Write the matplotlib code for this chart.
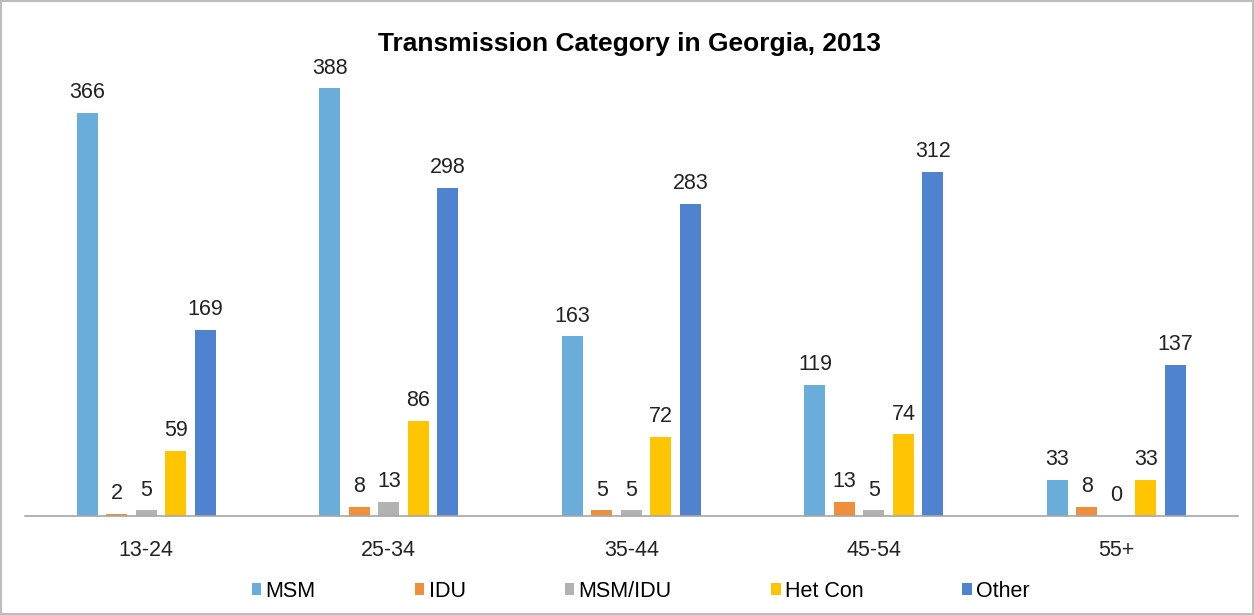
import matplotlib.pyplot as plt
import numpy as np
from matplotlib.patches import Patch, Rectangle

plt.rcParams['font.family'] = ['Liberation Sans', 'DejaVu Sans']

age_groups = ['13-24', '25-34', '35-44', '45-54', '55+']
categories = ['MSM', 'IDU', 'MSM/IDU', 'Het Con', 'Other']
msm = [366, 388, 163, 119, 33]
idu = [2, 8, 5, 13, 8]
msm_idu = [5, 13, 5, 5, 0]
het_con = [59, 86, 72, 74, 33]
other = [169, 298, 283, 312, 137]
series = [msm, idu, msm_idu, het_con, other]
colors = ['#6BADDA', '#EF8F3C', '#B2B2B2', '#FFC503', '#4F83CF']

fig = plt.figure(figsize=(12.54, 6.15), dpi=100)
ax = fig.add_axes([0.02, 0.161, 0.967, 0.742])

x = np.arange(len(age_groups))
pitch = 0.1216
width = 0.087
for i, (vals, col) in enumerate(zip(series, colors)):
    pos = x + (i - 2) * pitch
    ax.bar(pos, vals, width, color=col, zorder=2)
    for xp, v in zip(pos, vals):
        ax.annotate(str(v), (xp, v), xytext=(0, 7), textcoords='offset points',
                    ha='center', va='bottom', fontsize=15.5, color='#222222')

ax.set_xlim(-0.5, 4.5)
ax.set_ylim(0, 414)
ax.set_yticks([])
ax.set_xticks(x)
ax.set_xticklabels(age_groups, fontsize=15.5, color='#222222')
ax.tick_params(axis='x', length=0, pad=17)
for s in ['top', 'right', 'left']:
    ax.spines[s].set_visible(False)
ax.spines['bottom'].set_color('#A6A6A6')
ax.spines['bottom'].set_linewidth(1.2)

fig.suptitle('Transmission Category in Georgia, 2013', x=0.502, y=0.928,
             fontsize=19, fontweight='bold', va='center')

handles = [Patch(facecolor=c, edgecolor='none') for c in colors]
fig.legend(handles, categories, loc='center', bbox_to_anchor=(0.511, 0.039), ncol=5,
           frameon=False, fontsize=15.5, handlelength=0.45, handleheight=0.45,
           handletextpad=0.2, columnspacing=4.6)

fig.patches.append(Rectangle((0.001, 0.002), 0.998, 0.996, transform=fig.transFigure,
                             fill=False, edgecolor='#BDBDBD', linewidth=1.5))

fig.savefig('out.png', dpi=100)
